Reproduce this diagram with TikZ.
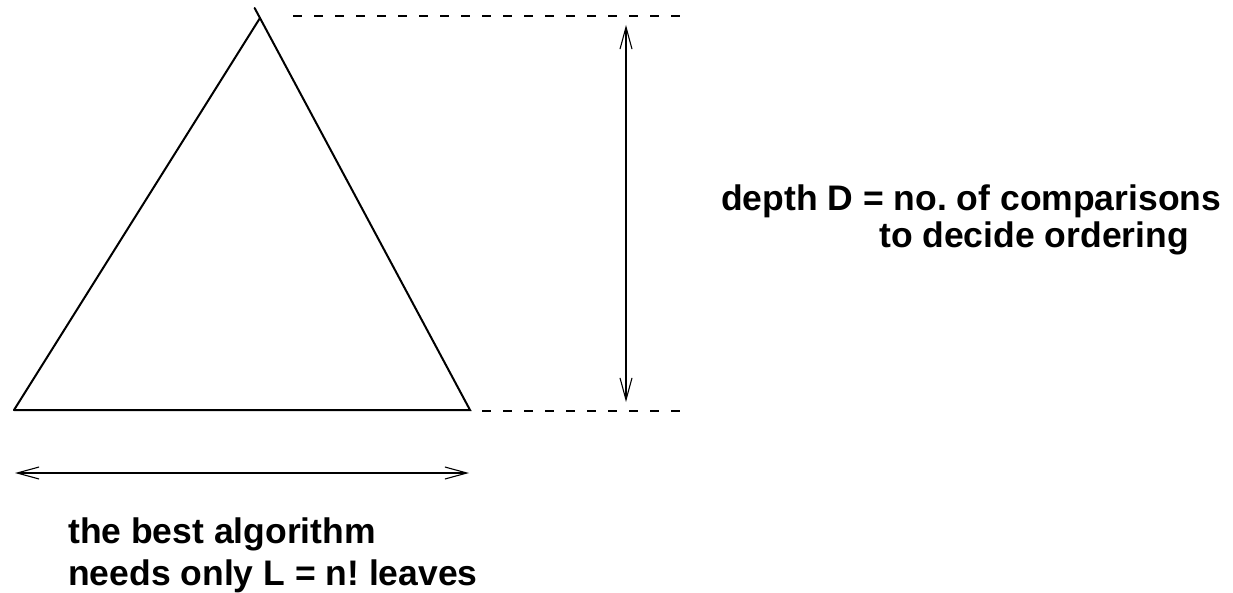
\documentclass[tikz,border=0pt]{standalone}
\usepackage{fontspec}
\setmainfont{Liberation Sans}
\usetikzlibrary{arrows.meta}
\frenchspacing
\begin{document}
\begin{tikzpicture}[x=1pt,y=-1pt,
  edge/.style={line width=2pt, line cap=round, line join=miter},
  guide/.style={line width=1.1pt, dash pattern=on 9pt off 12pt},
  dim/.style={line width=1.1pt, {Straight Barb[length=22pt,width=12pt,line width=1.1pt]}-{Straight Barb[length=22pt,width=12pt,line width=1.1pt]}},
  lbl/.style={inner sep=0pt, anchor=base west, font=\fontsize{35.5}{40}\selectfont\bfseries}]
\useasboundingbox (0,0) rectangle (1233,593);
% triangle
\coordinate (apex) at (260,18);
\coordinate (tick) at (254.6,8);
\coordinate (bl) at (14,410);
\coordinate (br) at (470,410);
\draw[edge] (bl) -- (br) -- (tick);
\draw[edge] (bl) -- (apex);
% guide lines
\coordinate (g1a) at (293,16);
\coordinate (g1b) at (680,16);
\coordinate (g2a) at (482,411);
\coordinate (g2b) at (680,411);
\draw[guide] (g1a) -- (g1b);
\draw[guide] (g2a) -- (g2b);
% dimension arrows
\coordinate (v1) at (626,25);
\coordinate (v2) at (626,402);
\draw[dim] (v1) -- (v2);
\coordinate (h1) at (15,473);
\coordinate (h2) at (469,473);
\draw[dim] (h1) -- (h2);
% labels
\node[lbl] (d1) at (721,211) {depth D = no. of comparisons};
\node[lbl] (d2) at (879,248) {to decide ordering};
\node[lbl] (b1) at (68,543) {the best algorithm};
\node[lbl] (b2) at (68,585) {needs only L = n! leaves};
\end{tikzpicture}
\end{document}
